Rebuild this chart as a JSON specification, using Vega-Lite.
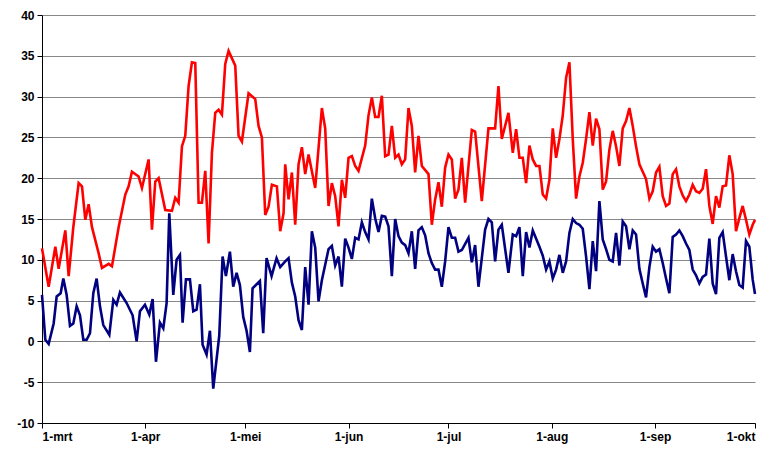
{
  "$schema": "https://vega.github.io/schema/vega-lite/v6.json",
  "width": 713,
  "height": 408,
  "autosize": "none",
  "padding": {"left": 42, "top": 15, "right": 21, "bottom": 32},
  "background": "white",
  "config": {"view": {"stroke": null}, "font": "Liberation Sans"},
  "datasets": {
    "tmax": [
      {"d":0,"v":11.4},{"d":2,"v":6.7},{"d":4,"v":11.6},{"d":5,"v":8.9},{"d":7,"v":13.6},{"d":8,"v":8},{"d":9.4,"v":14},{"d":11,"v":19.4},{"d":12,"v":19},{"d":13,"v":14.9},{"d":14,"v":16.8},{"d":15,"v":14},{"d":17,"v":10.8},{"d":18,"v":9},{"d":20,"v":9.5},{"d":21,"v":9.2},{"d":23,"v":14},{"d":25,"v":18},{"d":26,"v":19},{"d":27,"v":20.8},{"d":29,"v":20.2},{"d":30,"v":18.8},{"d":32,"v":22.3},{"d":33,"v":13.7},{"d":34,"v":19.6},{"d":35,"v":20},{"d":37,"v":16.1},{"d":39,"v":16},{"d":40,"v":17.6},{"d":41,"v":17},{"d":42,"v":23.9},{"d":43,"v":25.2},{"d":44,"v":31.3},{"d":45,"v":34.2},{"d":46,"v":34.1},{"d":47,"v":17},{"d":48,"v":17},{"d":49,"v":20.9},{"d":50,"v":12},{"d":51,"v":23.1},{"d":52,"v":28},{"d":53,"v":28.4},{"d":54,"v":27.8},{"d":55,"v":34},{"d":56,"v":35.6},{"d":58,"v":33.8},{"d":59,"v":25.2},{"d":60,"v":24.5},{"d":62,"v":30.4},{"d":64,"v":29.7},{"d":65,"v":26.4},{"d":66,"v":25},{"d":67,"v":15.5},{"d":68,"v":16.5},{"d":69,"v":19.2},{"d":70.5,"v":19},{"d":71.5,"v":13.5},{"d":72.5,"v":15.7},{"d":73,"v":21.7},{"d":74,"v":17.4},{"d":75,"v":20.7},{"d":76,"v":14.3},{"d":77,"v":21.7},{"d":78,"v":23.8},{"d":79,"v":20.5},{"d":80,"v":22.9},{"d":82,"v":18.8},{"d":84,"v":28.6},{"d":85,"v":26.1},{"d":86,"v":16.6},{"d":87,"v":19.4},{"d":88,"v":17.8},{"d":89,"v":14.1},{"d":90,"v":19.8},{"d":91,"v":17.6},{"d":92,"v":22.5},{"d":93,"v":22.7},{"d":94,"v":21.5},{"d":95,"v":20.9},{"d":97,"v":24},{"d":98,"v":27.7},{"d":99,"v":29.9},{"d":100,"v":27.5},{"d":101,"v":27.5},{"d":102,"v":30.1},{"d":103,"v":22.7},{"d":104,"v":22.9},{"d":105,"v":26.4},{"d":106,"v":22.5},{"d":107,"v":22.9},{"d":108,"v":21.7},{"d":109,"v":22.3},{"d":110,"v":28.6},{"d":111,"v":26.4},{"d":112,"v":20.7},{"d":113,"v":25.2},{"d":114,"v":21.5},{"d":116,"v":20.5},{"d":117,"v":14.3},{"d":118,"v":17.4},{"d":119,"v":19.5},{"d":120,"v":16.5},{"d":121,"v":21.3},{"d":122,"v":22.9},{"d":123,"v":22.3},{"d":124,"v":17.5},{"d":125,"v":18.6},{"d":126,"v":22.5},{"d":127,"v":17},{"d":129,"v":25.9},{"d":130,"v":25.7},{"d":132,"v":17.2},{"d":134,"v":26.1},{"d":136,"v":26.1},{"d":137,"v":31.3},{"d":138,"v":24.8},{"d":140,"v":28},{"d":141.3,"v":23.1},{"d":142.3,"v":26},{"d":143.3,"v":22.5},{"d":144.3,"v":22.5},{"d":145.3,"v":19.4},{"d":146.3,"v":24},{"d":147.3,"v":22.3},{"d":148.3,"v":21.5},{"d":149.3,"v":21.5},{"d":150.3,"v":18},{"d":151.3,"v":17.5},{"d":152.3,"v":19.8},{"d":153.3,"v":26.1},{"d":154.3,"v":22.5},{"d":155.3,"v":24.8},{"d":156.3,"v":27.7},{"d":157.3,"v":32.3},{"d":158.3,"v":34.2},{"d":159.3,"v":24.8},{"d":160.3,"v":17.5},{"d":161.3,"v":20.2},{"d":162.3,"v":21.9},{"d":163.3,"v":24.8},{"d":164.3,"v":28.1},{"d":165.3,"v":24},{"d":166.3,"v":27.3},{"d":167.3,"v":26},{"d":168.3,"v":18.6},{"d":169.3,"v":19.6},{"d":170.3,"v":23.5},{"d":171.3,"v":25.8},{"d":172.3,"v":23.9},{"d":173.3,"v":21.5},{"d":174.3,"v":26.1},{"d":175.3,"v":27},{"d":176.3,"v":28.6},{"d":177.3,"v":26.4},{"d":178.3,"v":23.9},{"d":179.3,"v":21.7},{"d":181.3,"v":19.9},{"d":182.3,"v":17.5},{"d":183.3,"v":18.4},{"d":184.3,"v":20.7},{"d":185.3,"v":21.4},{"d":186.3,"v":17.8},{"d":187.3,"v":16.6},{"d":188.3,"v":16.9},{"d":189.3,"v":20.5},{"d":190.3,"v":21.1},{"d":191.3,"v":19},{"d":192.3,"v":17.9},{"d":193.3,"v":17.2},{"d":194.3,"v":18},{"d":195.3,"v":19.2},{"d":196.3,"v":18.4},{"d":197.3,"v":18.2},{"d":198.3,"v":18.7},{"d":199.3,"v":21.1},{"d":200.3,"v":16.6},{"d":201.3,"v":14.4},{"d":202.3,"v":17.8},{"d":203.3,"v":16.4},{"d":204.3,"v":19},{"d":205.3,"v":19.1},{"d":206.3,"v":22.8},{"d":207.3,"v":20.5},{"d":208.3,"v":13.5},{"d":209.3,"v":15.1},{"d":210.3,"v":16.6},{"d":211.3,"v":14.9},{"d":212.3,"v":13.1},{"d":213.3,"v":14.3},{"d":214,"v":14.9}
    ],
    "tmin": [
      {"d":0,"v":5.7},{"d":1,"v":0.2},{"d":2,"v":-0.3},{"d":3.5,"v":2.2},{"d":4.4,"v":5.5},{"d":5.6,"v":5.9},{"d":6.4,"v":7.7},{"d":7.4,"v":5.7},{"d":8.4,"v":1.9},{"d":9.4,"v":2.2},{"d":10.4,"v":4.3},{"d":11.4,"v":3.2},{"d":12.4,"v":0.2},{"d":13.4,"v":0.2},{"d":14.4,"v":1},{"d":15.4,"v":5.9},{"d":16.4,"v":7.7},{"d":17.4,"v":4.3},{"d":18.4,"v":2},{"d":20.2,"v":0.8},{"d":21.4,"v":5.1},{"d":22.4,"v":4.5},{"d":23.4,"v":6},{"d":25.4,"v":4.7},{"d":27.2,"v":3.2},{"d":28.4,"v":0},{"d":29.4,"v":3.7},{"d":30.9,"v":4.5},{"d":32.2,"v":3.3},{"d":33.2,"v":5.2},{"d":34.2,"v":-2.5},{"d":35.4,"v":2.3},{"d":36.4,"v":1.6},{"d":37.4,"v":4.7},{"d":38.2,"v":15.7},{"d":39.4,"v":5.7},{"d":40.4,"v":10},{"d":41.4,"v":10.6},{"d":42.2,"v":2.3},{"d":43.2,"v":7.6},{"d":44.4,"v":7.6},{"d":45.4,"v":3.7},{"d":46.4,"v":3.9},{"d":47.4,"v":7},{"d":48.2,"v":-0.4},{"d":49.4,"v":-1.6},{"d":50.4,"v":1.3},{"d":51.4,"v":-5.8},{"d":53.2,"v":0.7},{"d":54.2,"v":10.4},{"d":55.2,"v":8},{"d":56.4,"v":11},{"d":57.4,"v":6.7},{"d":58.4,"v":8.4},{"d":59.4,"v":6.9},{"d":60.4,"v":3},{"d":61.4,"v":1.3},{"d":62.4,"v":-1.3},{"d":63.2,"v":6.5},{"d":65.4,"v":7.4},{"d":66.4,"v":1},{"d":67.4,"v":10.2},{"d":68.9,"v":8},{"d":70.4,"v":10.2},{"d":71.5,"v":9.1},{"d":73,"v":9.8},{"d":74,"v":10.2},{"d":75,"v":7.2},{"d":76,"v":5.5},{"d":77,"v":2.6},{"d":78,"v":1.4},{"d":79,"v":9.1},{"d":80,"v":4.5},{"d":81,"v":13.5},{"d":82,"v":11.5},{"d":83,"v":4.9},{"d":84,"v":7.5},{"d":86,"v":11.3},{"d":87,"v":11.7},{"d":88,"v":9.3},{"d":89,"v":10.4},{"d":90,"v":6.7},{"d":91,"v":12.6},{"d":92,"v":11.5},{"d":93,"v":10.1},{"d":94,"v":12.7},{"d":95,"v":12.5},{"d":96,"v":14.6},{"d":97,"v":13.4},{"d":98,"v":12.5},{"d":99,"v":17.5},{"d":100,"v":15.1},{"d":101,"v":13.4},{"d":102,"v":15.4},{"d":103,"v":15.3},{"d":104,"v":14.1},{"d":105,"v":8},{"d":106,"v":15},{"d":107,"v":12.9},{"d":108,"v":12.1},{"d":109,"v":11.8},{"d":110,"v":10.8},{"d":111,"v":13.5},{"d":112,"v":8.9},{"d":113,"v":13.6},{"d":114,"v":14},{"d":115,"v":13},{"d":116,"v":10.8},{"d":117,"v":9.6},{"d":118,"v":8.8},{"d":119,"v":8.8},{"d":120,"v":6.7},{"d":121,"v":9.8},{"d":122,"v":14},{"d":123,"v":12.7},{"d":124,"v":12.7},{"d":125,"v":11},{"d":126,"v":11.2},{"d":128,"v":12.7},{"d":129,"v":9.7},{"d":130,"v":11.8},{"d":131,"v":6.7},{"d":133,"v":13.7},{"d":134,"v":15},{"d":135,"v":14.6},{"d":136,"v":9.8},{"d":137,"v":13.7},{"d":138,"v":14.3},{"d":140,"v":8.4},{"d":141.3,"v":13.1},{"d":142.3,"v":12.9},{"d":143.3,"v":14},{"d":144.3,"v":8},{"d":145.3,"v":13.4},{"d":146.3,"v":11.5},{"d":147.3,"v":13.6},{"d":149.3,"v":11.6},{"d":150.3,"v":10.5},{"d":151.3,"v":8.8},{"d":152.3,"v":9.8},{"d":153.3,"v":7.7},{"d":154.3,"v":8.8},{"d":155.3,"v":10.6},{"d":156.3,"v":8.4},{"d":157.3,"v":9.8},{"d":158.3,"v":13.3},{"d":159.3,"v":15},{"d":160.3,"v":14.5},{"d":161.3,"v":14.3},{"d":162.3,"v":13.8},{"d":163.3,"v":10.4},{"d":164.3,"v":6.4},{"d":165.3,"v":12.3},{"d":166.3,"v":8.6},{"d":167.3,"v":17.2},{"d":168.3,"v":12.5},{"d":169.3,"v":11.3},{"d":170.3,"v":10},{"d":171.3,"v":9.8},{"d":172.3,"v":13.3},{"d":173.3,"v":9.3},{"d":174.3,"v":14.7},{"d":175.3,"v":14.1},{"d":176.3,"v":11.3},{"d":177.3,"v":13.6},{"d":178.3,"v":13.1},{"d":179.3,"v":8.9},{"d":180.3,"v":7.1},{"d":181.3,"v":5.4},{"d":182.3,"v":9.1},{"d":183.3,"v":11.6},{"d":184.3,"v":11},{"d":185.3,"v":11.3},{"d":186.3,"v":9.6},{"d":187.3,"v":7.7},{"d":188.3,"v":5.9},{"d":189.3,"v":12.8},{"d":190.3,"v":13.1},{"d":191.3,"v":13.6},{"d":192.3,"v":12.9},{"d":193.3,"v":12},{"d":194.3,"v":11.2},{"d":195.3,"v":8.8},{"d":196.3,"v":8.1},{"d":197.3,"v":7.1},{"d":198.3,"v":7.9},{"d":199.3,"v":8.2},{"d":200.3,"v":12.6},{"d":201.3,"v":7.1},{"d":202.3,"v":5.8},{"d":203.3,"v":12.7},{"d":204.3,"v":13.4},{"d":205.3,"v":10.4},{"d":206.3,"v":7.5},{"d":207.3,"v":10.7},{"d":208.3,"v":8.6},{"d":209.3,"v":6.9},{"d":210.3,"v":6.6},{"d":211.3,"v":12.3},{"d":212.3,"v":11.6},{"d":213.3,"v":7.6},{"d":214,"v":5.8}
    ]
  },
  "encoding": {
    "x": {
      "field": "d", "type": "quantitative",
      "scale": {"domain": [0, 214], "nice": false, "zero": false},
      "axis": {
        "title": null, "values": [0, 31, 61, 92, 122, 153, 184, 214],
        "labelExpr": "datum.value == 0 ? '1-mrt' : datum.value == 31 ? '1-apr' : datum.value == 61 ? '1-mei' : datum.value == 92 ? '1-jun' : datum.value == 122 ? '1-jul' : datum.value == 153 ? '1-aug' : datum.value == 184 ? '1-sep' : '1-okt'",
        "grid": false, "domainColor": "black", "tickColor": "black", "tickSize": 5,
        "labelColor": "black", "labelFont": "Liberation Sans", "labelFontSize": 12, "labelFontWeight": "bold", "labelPadding": 3
      }
    },
    "y": {
      "field": "v", "type": "quantitative",
      "scale": {"domain": [-10, 40], "nice": false},
      "axis": {
        "title": null, "values": [-10, -5, 0, 5, 10, 15, 20, 25, 30, 35, 40],
        "labelExpr": "'' + datum.value",
        "gridColor": "#888888", "gridWidth": 1, "gridOpacity": 1,
        "domainColor": "black", "tickColor": "black", "tickSize": 5,
        "labelColor": "black", "labelFont": "Liberation Sans", "labelFontSize": 12, "labelFontWeight": "bold", "labelPadding": 3
      }
    }
  },
  "layer": [
    {"data": {"name": "tmax"}, "mark": {"type": "line", "color": "#FF0000", "strokeWidth": 2.6}},
    {"data": {"name": "tmin"}, "mark": {"type": "line", "color": "#000080", "strokeWidth": 2.6}},
    {
      "data": {"values": [{"v": 0}]},
      "mark": {"type": "rule", "color": "black", "strokeWidth": 1},
      "encoding": {"x": {"datum": 214}, "y": {"datum": -10}, "y2": {"datum": 40}}
    }
  ]
}
